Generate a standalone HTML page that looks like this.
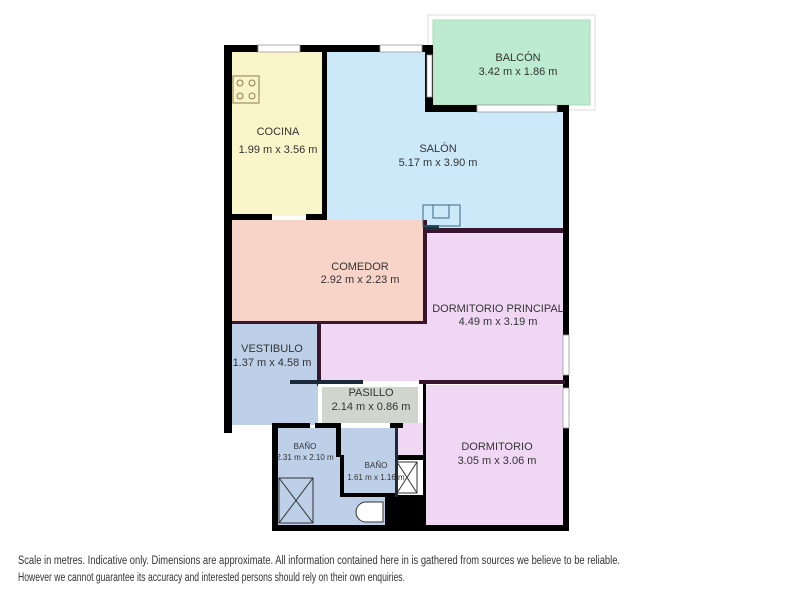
<!DOCTYPE html>
<html><head><meta charset="utf-8"><style>
html,body{margin:0;padding:0;background:#fff;}
svg{display:block;}
text{font-family:"Liberation Sans",sans-serif;fill:#333;}
</style></head><body>
<svg width="800" height="600" viewBox="0 0 800 600" xmlns="http://www.w3.org/2000/svg">
<rect width="800" height="600" fill="#fff"/>
<!-- balcony -->
<rect x="428" y="15" width="167" height="95" fill="#fff" stroke="#ddd" stroke-width="1"/>
<rect x="433" y="20" width="157" height="85" fill="#bdebd0" stroke="#a8dcb9"/>
<!-- outer walls -->
<rect x="224" y="45" width="209" height="7" fill="#000"/>
<rect x="224" y="45" width="8" height="388" fill="#000"/>
<rect x="425" y="45" width="8" height="62" fill="#000"/>
<rect x="425" y="105" width="144" height="7" fill="#000"/>
<rect x="563" y="105" width="6" height="426" fill="#000"/>
<rect x="272" y="425" width="6" height="106" fill="#000"/>
<rect x="272" y="525" width="297" height="6" fill="#000"/>
<!-- rooms -->
<rect x="232" y="52" width="90" height="164" fill="#faf5c8"/>
<rect x="327" y="52" width="98" height="178" fill="#cce9fa"/>
<rect x="425" y="112" width="138" height="118" fill="#cce9fa"/>
<rect x="232" y="220" width="193" height="102" fill="#f8d3c8"/>
<rect x="425" y="233" width="138" height="148" fill="#f0d8f5"/>
<rect x="320" y="322" width="105" height="59" fill="#f0d8f5"/>
<rect x="232" y="322" width="86" height="103" fill="#bdd0e8"/>
<rect x="322" y="387" width="96" height="36" fill="#d0d5ce"/>
<rect x="425" y="385" width="138" height="140" fill="#f0d8f5"/>
<rect x="398" y="423" width="27" height="34" fill="#f0d8f5"/>
<rect x="278" y="428" width="62" height="97" fill="#bdd0e8"/>
<rect x="340" y="428" width="58" height="67" fill="#bdd0e8"/>
<rect x="340" y="495" width="45" height="30" fill="#bdd0e8"/>
<rect x="385" y="495" width="40" height="30" fill="#000"/>
<!-- interior walls -->
<rect x="322" y="52" width="5" height="168" fill="#000"/>
<rect x="232" y="214" width="40" height="6" fill="#000"/>
<rect x="306" y="214" width="21" height="6" fill="#000"/>
<rect x="232" y="216" width="2" height="4" fill="#000"/>
<rect x="423" y="220" width="4" height="104" fill="#3a1530"/>
<rect x="232" y="321" width="195" height="3" fill="#3a1530"/>
<rect x="425" y="228" width="138" height="5" fill="#3a1530"/>
<rect x="425" y="225" width="14" height="5" fill="#1a3040"/>
<rect x="317" y="322" width="4" height="64" fill="#3a1530"/>
<rect x="290" y="380" width="73" height="4" fill="#1a2a3a"/>
<rect x="419" y="380" width="146" height="4" fill="#3a1530"/>
<rect x="318" y="384" width="4" height="42" fill="#fff"/>
<rect x="272" y="423" width="38" height="5" fill="#000"/>
<rect x="315" y="423" width="26" height="5" fill="#000"/>
<rect x="390" y="423" width="13" height="5" fill="#000"/>
<rect x="336" y="425" width="5" height="32" fill="#000"/>
<rect x="340" y="455" width="4" height="42" fill="#000"/>
<rect x="340" y="493" width="58" height="4" fill="#000"/>
<rect x="395" y="455" width="30" height="5" fill="#000"/>
<rect x="395" y="428" width="3" height="69" fill="#1a2a3a"/>
<rect x="423" y="384" width="3" height="141" fill="#000"/>
<!-- windows -->
<rect x="258" y="45" width="42" height="7" fill="#fff" stroke="#999" stroke-width="0.8"/>
<rect x="380" y="45" width="42" height="7" fill="#fff" stroke="#999" stroke-width="0.8"/>
<rect x="427" y="55" width="5" height="42" fill="#fff" stroke="#999" stroke-width="0.8"/>
<rect x="477" y="105" width="80" height="7" fill="#fff" stroke="#999" stroke-width="0.8"/>
<rect x="563" y="335" width="6" height="40" fill="#fff" stroke="#999" stroke-width="0.8"/>
<rect x="563" y="388" width="6" height="40" fill="#fff" stroke="#999" stroke-width="0.8"/>
<!-- stove -->
<rect x="233" y="76" width="26" height="27" fill="none" stroke="#8a7d50"/>
<circle cx="240" cy="83" r="3" fill="none" stroke="#8a7d50"/><circle cx="252" cy="83" r="3" fill="none" stroke="#8a7d50"/>
<circle cx="240" cy="96" r="3" fill="none" stroke="#8a7d50"/><circle cx="252" cy="96" r="3" fill="none" stroke="#8a7d50"/>
<!-- chimney -->
<rect x="423" y="205" width="37" height="21" fill="none" stroke="#3a6a7a"/>
<rect x="433" y="205" width="16" height="13" fill="#cce9fa" stroke="#3a6a7a"/>
<!-- shower -->
<rect x="279" y="478" width="34" height="45" fill="none" stroke="#333"/>
<path d="M279 478L313 523M313 478L279 523" stroke="#333"/>
<rect x="397" y="462" width="20" height="31" fill="none" stroke="#333"/>
<path d="M397 462L417 493M417 462L397 493" stroke="#333"/>
<path d="M383 502h-17a10 10 0 0 0 0 20h17z" fill="#fff" stroke="#333"/>
<!-- labels -->
<g font-size="11" text-anchor="middle">
<text x="278" y="135">COCINA</text>
<text x="278" y="153">1.99 m x 3.56 m</text>
<text x="438" y="152">SALÓN</text>
<text x="438" y="166">5.17 m x 3.90 m</text>
<text x="518" y="61">BALCÓN</text>
<text x="518" y="75">3.42 m x 1.86 m</text>
<text x="360" y="270">COMEDOR</text>
<text x="360" y="283">2.92 m x 2.23 m</text>
<text x="498" y="312">DORMITORIO PRINCIPAL</text>
<text x="498" y="325">4.49 m x 3.19 m</text>
<text x="272" y="352">VESTIBULO</text>
<text x="272" y="366">1.37 m x 4.58 m</text>
<text x="371" y="396">PASILLO</text>
<text x="371" y="410">2.14 m x 0.86 m</text>
<text x="497" y="450">DORMITORIO</text>
<text x="497" y="464">3.05 m x 3.06 m</text>
</g>
<g font-size="8" text-anchor="middle">
<text x="305" y="449">BAÑO</text>
<text x="305" y="460">2.31 m x 2.10 m</text>
<text x="376" y="468">BAÑO</text>
<text x="376" y="480">1.61 m x 1.16 m</text>
</g>
<g font-size="11.5">
<text x="18" y="564" textLength="602" lengthAdjust="spacingAndGlyphs">Scale in metres. Indicative only.  Dimensions are approximate. All information contained here in is gathered from sources we believe to be reliable.</text>
<text x="18" y="581" textLength="387" lengthAdjust="spacingAndGlyphs">However we cannot guarantee its accuracy and interested persons should rely on their own enquiries.</text>
</g>
</svg>
</body></html>
